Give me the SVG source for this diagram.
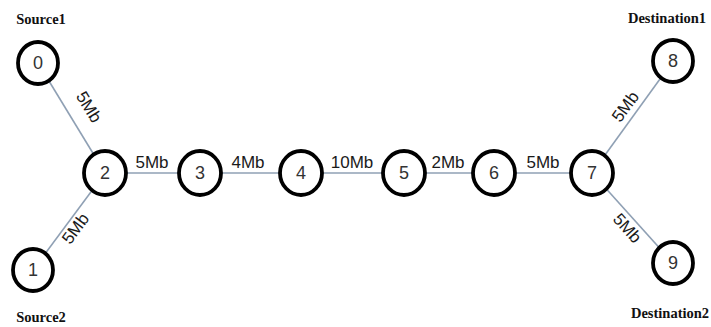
<svg xmlns="http://www.w3.org/2000/svg" width="711" height="327" viewBox="0 0 711 327">
<style>
.node ellipse{fill:#fff;stroke:#000;stroke-width:3.8}
.node text{font-family:"Liberation Sans",Arial,sans-serif;font-size:18px;fill:#333;text-anchor:middle}
.edge{stroke:#8fa0b4;stroke-width:1.6;fill:none}
.lbl{font-family:"Liberation Sans",Arial,sans-serif;font-size:17px;fill:#1a1a1a;text-anchor:middle}
.cap{font-family:"Liberation Serif","Times New Roman",serif;font-weight:bold;font-size:14.5px;fill:#111;text-anchor:middle}
</style>
<rect width="711" height="327" fill="#fff"/>
<g id="connectors">
<line class="edge" x1="38" y1="63" x2="105" y2="173"/>
<line class="edge" x1="33" y1="270" x2="105" y2="173"/>
<line class="edge" x1="105" y1="173" x2="200" y2="173"/>
<line class="edge" x1="200" y1="173" x2="301" y2="173"/>
<line class="edge" x1="301" y1="173" x2="404" y2="173"/>
<line class="edge" x1="404" y1="173" x2="494" y2="173"/>
<line class="edge" x1="494" y1="173" x2="592" y2="173"/>
<line class="edge" x1="592" y1="173" x2="673" y2="61"/>
<line class="edge" x1="592" y1="173" x2="673" y2="263"/>
<text class="lbl" transform="translate(84,110) rotate(58.6)">5Mb</text>
<text class="lbl" transform="translate(80,232) rotate(-53.4)">5Mb</text>
<text class="lbl" x="152" y="168">5Mb</text>
<text class="lbl" x="248" y="168">4Mb</text>
<text class="lbl" x="352" y="168">10Mb</text>
<text class="lbl" x="448" y="168">2Mb</text>
<text class="lbl" x="543" y="168">5Mb</text>
<text class="lbl" transform="translate(630,110) rotate(-54)">5Mb</text>
<text class="lbl" transform="translate(623,232) rotate(48)">5Mb</text>
</g>
<g id="node0" class="node"><ellipse cx="38" cy="63" rx="20" ry="21"/><text x="38" y="69">0</text></g>
<g id="node1" class="node"><ellipse cx="33" cy="270" rx="20" ry="21"/><text x="33" y="276">1</text></g>
<g id="node2" class="node"><ellipse cx="105" cy="173" rx="21" ry="22"/><text x="105" y="179">2</text></g>
<g id="node3" class="node"><ellipse cx="200" cy="173" rx="21" ry="22"/><text x="200" y="179">3</text></g>
<g id="node4" class="node"><ellipse cx="301" cy="173" rx="21" ry="22"/><text x="301" y="179">4</text></g>
<g id="node5" class="node"><ellipse cx="404" cy="173" rx="21" ry="22"/><text x="404" y="179">5</text></g>
<g id="node6" class="node"><ellipse cx="494" cy="173" rx="21" ry="22"/><text x="494" y="179">6</text></g>
<g id="node7" class="node"><ellipse cx="592" cy="173" rx="21" ry="22"/><text x="592" y="179">7</text></g>
<g id="node8" class="node"><ellipse cx="673" cy="61" rx="20" ry="21"/><text x="673" y="67">8</text></g>
<g id="node9" class="node"><ellipse cx="673" cy="263" rx="20" ry="21"/><text x="673" y="269">9</text></g>
<g id="captions">
<text class="cap" x="41" y="24">Source1</text>
<text class="cap" x="41" y="322">Source2</text>
<text class="cap" x="667" y="23">Destination1</text>
<text class="cap" x="670" y="318">Destination2</text>
</g>
</svg>
